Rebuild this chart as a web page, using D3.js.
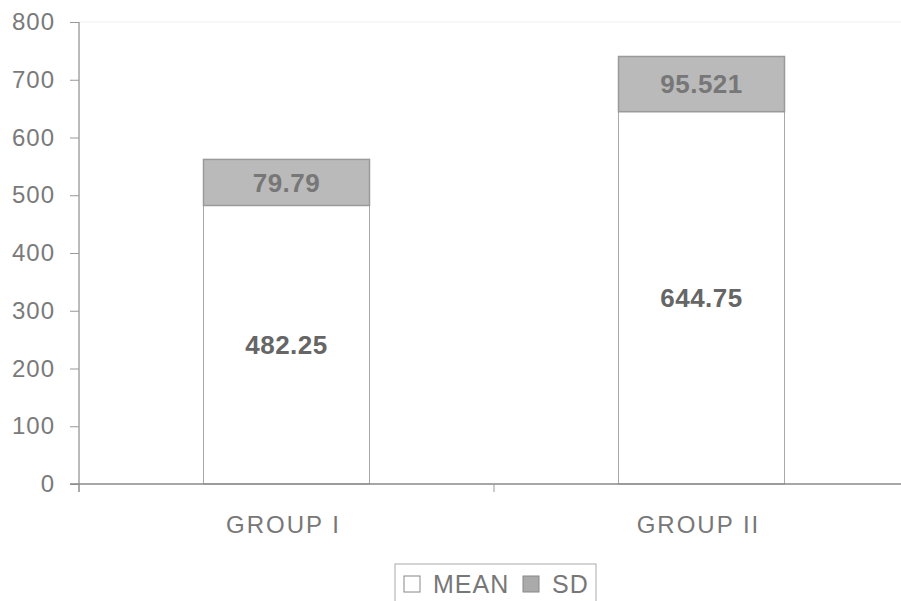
<!DOCTYPE html>
<html>
<head>
<meta charset="utf-8">
<script src="https://cdn.jsdelivr.net/npm/d3@7"></script>
<style>
  body { margin: 0; background: #fff; }
  svg { font-family: "Liberation Sans", Arial, sans-serif; }
</style>
</head>
<body>
<div id="chart"></div>
<script>
"use strict";
const groups = ["GROUP I", "GROUP II"];
const meanValues = [482.25, 644.75];
const sdValues = [79.79, 95.521];
const yTicks = [0, 100, 200, 300, 400, 500, 600, 700, 800];

const width = 901, height = 601;
const margin = { top: 22, right: -8, bottom: 117, left: 79 };

const svg = d3.select("#chart").append("svg")
    .attr("width", width)
    .attr("height", height);

const x = d3.scaleBand()
    .domain(groups)
    .range([margin.left, width - margin.right])
    .paddingInner(0)
    .paddingOuter(0);
const y = d3.scaleLinear()
    .domain([0, 800])
    .range([height - margin.bottom, margin.top]);

// top gridline
svg.append("line")
    .attr("x1", margin.left).attr("x2", width)
    .attr("y1", y(800)).attr("y2", y(800))
    .attr("stroke", "#eee");

const stacked = groups.map((g, i) => ({
    group: g,
    mean: meanValues[i],
    sd: sdValues[i]
}));

const barW = x.bandwidth() * 0.4;
const bars = svg.append("g").selectAll("g").data(stacked).join("g")
    .attr("transform", d => `translate(${x(d.group) + (x.bandwidth() - barW) / 2},0)`);

bars.append("rect")
    .attr("y", d => y(d.mean))
    .attr("height", d => y(0) - y(d.mean))
    .attr("width", barW)
    .attr("fill", "#fff")
    .attr("stroke", "#a8a8a8");

bars.append("rect")
    .attr("y", d => y(d.mean + d.sd))
    .attr("height", d => y(d.mean) - y(d.mean + d.sd))
    .attr("width", barW)
    .attr("fill", "#bababa")
    .attr("stroke", "#9a9a9a")
    .attr("stroke-width", 1.5);

bars.append("text")
    .attr("x", barW / 2)
    .attr("y", d => (y(0) + y(d.mean)) / 2)
    .attr("dy", "0.35em")
    .attr("text-anchor", "middle")
    .attr("font-size", 26)
    .attr("font-weight", "bold")
    .attr("letter-spacing", 0.5)
    .attr("fill", "#666")
    .text(d => d.mean);

bars.append("text")
    .attr("x", barW / 2)
    .attr("y", d => (y(d.mean) + y(d.mean + d.sd)) / 2)
    .attr("dy", "0.35em")
    .attr("text-anchor", "middle")
    .attr("font-size", 26)
    .attr("font-weight", "bold")
    .attr("letter-spacing", 0.5)
    .attr("fill", "#777")
    .text(d => d.sd);

// y axis
const yAxis = svg.append("g")
    .attr("transform", `translate(${margin.left},0)`)
    .call(d3.axisLeft(y).tickValues(yTicks).tickSize(9).tickPadding(15));
yAxis.select(".domain").attr("stroke", "#777").attr("d", `M0,${y(800)}V${y(0) + 8}`);
yAxis.selectAll(".tick line").attr("stroke", "#999");
yAxis.selectAll("text")
    .attr("font-size", 24)
    .attr("letter-spacing", 1)
    .attr("fill", "#7a7a7a")
    .attr("font-family", "Liberation Sans, Arial, sans-serif");

// x axis
const xAxis = svg.append("g")
    .attr("transform", `translate(0,${y(0)})`);
xAxis.append("line")
    .attr("x1", margin.left - 9).attr("x2", width)
    .attr("stroke", "#888").attr("stroke-width", 1.5);
xAxis.selectAll("line.sep").data(groups).join("line")
    .attr("class", "sep")
    .attr("x1", d => x(d)).attr("x2", d => x(d))
    .attr("y1", 0).attr("y2", 8)
    .attr("stroke", "#999");
xAxis.selectAll("text").data(groups).join("text")
    .attr("x", d => x(d) + x.bandwidth() / 2 - 3)
    .attr("y", 49)
    .attr("text-anchor", "middle")
    .attr("font-size", 24)
    .attr("letter-spacing", 2)
    .attr("fill", "#777")
    .text(d => d);

// legend
const legend = svg.append("g").attr("transform", "translate(395,564)");
legend.append("rect")
    .attr("width", 201).attr("height", 45)
    .attr("fill", "#fff").attr("stroke", "#aaa");
const items = [
    { label: "MEAN", fill: "#fff", stroke: "#888" },
    { label: "SD", fill: "#aaa", stroke: "#888" }
];
const itemX = [9, 128];
items.forEach((it, i) => {
    legend.append("rect")
        .attr("x", itemX[i]).attr("y", 12)
        .attr("width", 16).attr("height", 16)
        .attr("fill", it.fill).attr("stroke", it.stroke);
    legend.append("text")
        .attr("x", itemX[i] + 29).attr("y", 29)
        .attr("font-size", 25)
        .attr("letter-spacing", 1)
        .attr("fill", "#777")
        .text(it.label);
});
</script>
</body>
</html>
